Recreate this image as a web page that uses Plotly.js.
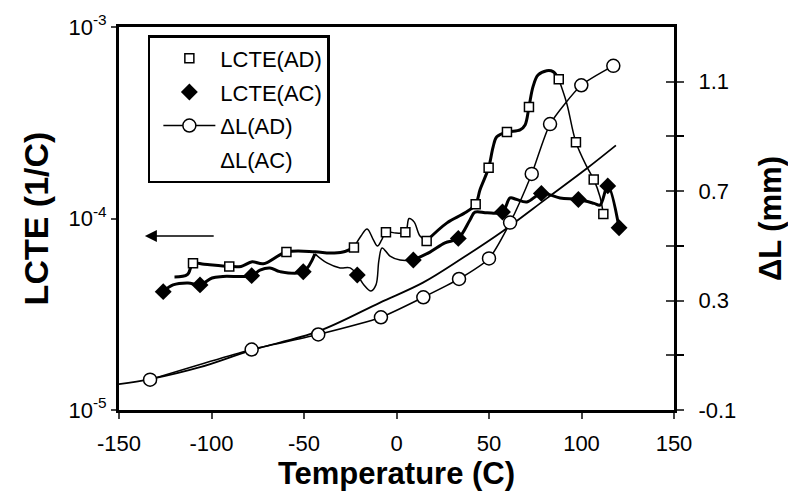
<!DOCTYPE html>
<html>
<head>
<meta charset="utf-8">
<script src="https://cdn.plot.ly/plotly-3.0.1.min.js"></script>
<style>html,body{margin:0;padding:0;background:#fff}#chart{width:788px;height:499px}</style>
</head>
<body>
<div id="chart"></div>
<script>
// ---- measured points ----
const adTemp = [-110, -90.4, -59.5, -23, -5.7, 4.8, 16.3, 42.8, 49.8, 59.7, 71.6, 87.7, 97, 106.6, 111.8];
const adLcte = [5.83e-5, 5.62e-5, 6.68e-5, 7.05e-5, 8.48e-5, 8.48e-5, 7.64e-5, 1.186e-4, 1.84e-4, 2.83e-4, 3.82e-4, 5.33e-4, 2.5e-4, 1.6e-4, 1.055e-4];
const acTemp = [-126.1, -106.2, -78.3, -50.4, -21.2, 9.1, 33.4, 57.3, 78.3, 98.3, 114.2, 120.3];
const acLcte = [4.15e-5, 4.5e-5, 5.03e-5, 5.27e-5, 5.07e-5, 6.07e-5, 7.87e-5, 1.082e-4, 1.352e-4, 1.257e-4, 1.48e-4, 8.95e-5];
const dlAdTemp = [-133.2, -78.3, -42.3, -8.4, 14.5, 33.8, 50.0, 61.4, 73.1, 83.0, 99.9, 117.2];
const dlAd = [0.011, 0.121, 0.176, 0.239, 0.312, 0.379, 0.454, 0.585, 0.763, 0.945, 1.087, 1.158];
const dlAcTemp = [-150, -133.2, -106.2, -78.6, -42.4, -8.9, 14.3, 35.9, 57.6, 81.4, 103.0, 118.6];
const dlAc = [-0.0055, 0.0127, 0.0564, 0.1182, 0.1873, 0.2927, 0.3655, 0.4564, 0.5545, 0.6745, 0.7836, 0.8673];

// ---- smoothed curves ----
const adCurveATemp = [-120, -113, -110, -104, -90.4, -84, -78, -72, -59.5, -44, -36, -29, -23];
const adCurveA = [4.95e-5, 5.1e-5, 5.83e-5, 5.77e-5, 5.62e-5, 5.62e-5, 5.94e-5, 5.8e-5, 6.68e-5, 6.7e-5, 6.6e-5, 6.68e-5, 7.05e-5];
const adCurveBTemp = [-23, -19.2, -15.9, -12.5, -10.3, -8, -5.7, -0.3, 4.8, 6.8, 9.5, 12.7, 16.3];
const adCurveB = [7.05e-5, 8.1e-5, 8.82e-5, 7.73e-5, 7.18e-5, 7.73e-5, 8.48e-5, 8.4e-5, 8.48e-5, 1.0e-4, 9.6e-5, 8.1e-5, 7.64e-5];
const adCurveCTemp = [16.3, 27.3, 37.0, 42.8, 45.1, 49.8, 52.2, 54.2, 59.7, 66.8, 69.5, 71.6, 73.8, 76.5, 81.2, 84.6, 87.7];
const adCurveC = [7.64e-5, 9.49e-5, 1.07e-4, 1.186e-4, 1.41e-4, 1.84e-4, 2.36e-4, 2.67e-4, 2.83e-4, 2.9e-4, 3.08e-4, 3.82e-4, 4.88e-4, 5.61e-4, 5.91e-4, 5.85e-4, 5.33e-4];
const adCurveDTemp = [87.7, 92.0, 97.0, 102.8, 106.6, 110.0, 111.8];
const adCurveD = [5.33e-4, 4.0e-4, 2.5e-4, 1.87e-4, 1.6e-4, 1.3e-4, 1.055e-4];

const acCurveATemp = [-126.1, -120.8, -112.7, -106.2, -99.7, -93.8, -78.3, -73.8, -68.4, -63.0, -50.4, -44.1];
const acCurveA = [4.15e-5, 4.5e-5, 4.61e-5, 4.5e-5, 4.89e-5, 4.98e-5, 5.03e-5, 5.38e-5, 5.52e-5, 5.28e-5, 5.27e-5, 6.53e-5];
const acCurveBTemp = [-44.1, -37.6, -30.5, -25.1, -21.2, -17.6, -13.8, -11.1, -9.5, -7.8, -3.5, 1.9, 9.1];
const acCurveB = [6.53e-5, 5.86e-5, 5.52e-5, 5.52e-5, 5.07e-5, 4.5e-5, 4.18e-5, 4.5e-5, 6.07e-5, 7.02e-5, 6.37e-5, 6.07e-5, 6.07e-5];
const acCurveCTemp = [9.1, 18.1, 26.2, 33.4, 39.7, 42.4, 49.0, 57.3, 61.4, 64.6, 70.5, 78.3, 88.4, 98.3, 106.8, 110.0, 114.2, 120.3];
const acCurveC = [6.07e-5, 6.68e-5, 7.45e-5, 7.87e-5, 9.82e-5, 1.08e-4, 1.07e-4, 1.082e-4, 1.28e-4, 1.26e-4, 1.22e-4, 1.352e-4, 1.28e-4, 1.257e-4, 1.2e-4, 1.175e-4, 1.48e-4, 8.95e-5];

const xTicks = [-150, -100, -50, 0, 50, 100, 150];
const xTickText = ['-150', '-100', '-50', '0', '50', '100', '150'];
const lcteTicks = [1e-5, 1e-4, 1e-3];
const lcteTickText = ['10<sup>-5</sup>', '10<sup>-4</sup>', '10<sup>-3</sup>'];
const dlTicks = [-0.1, 0.3, 0.7, 1.1];
const dlTickText = ['-0.1', '0.3', '0.7', '1.1'];
const dlMinorTicks = [0.1, 0.5, 0.9];
const dlAllTicks = [-0.1, 0.1, 0.3, 0.5, 0.7, 0.9, 1.1];

const FONT = 'Liberation Sans, Arial, sans-serif';
function curve(x, y, w, yaxis) {
  return {x: x, y: y, yaxis: yaxis || 'y', mode: 'lines', showlegend: false, hoverinfo: 'skip',
          line: {color: '#000', width: w, shape: 'spline', smoothing: 1}};
}

const traces = [
  curve(dlAcTemp, dlAc, 1.8, 'y2'),
  curve(adCurveATemp, adCurveA, 3),
  curve(adCurveBTemp, adCurveB, 1.5),
  curve(adCurveCTemp, adCurveC, 3),
  curve(adCurveDTemp, adCurveD, 1.5),
  curve(acCurveATemp, acCurveA, 3),
  curve(acCurveBTemp, acCurveB, 1.5),
  curve(acCurveCTemp, acCurveC, 3),
  {x: dlAdTemp, y: dlAd, yaxis: 'y2', name: 'ΔL(AD)', mode: 'lines+markers', legendgroup: 'c', legendrank: 3,
   line: {color: '#000', width: 1.5, shape: 'spline', smoothing: 0.6},
   marker: {symbol: 'circle', size: 13, color: '#fff', line: {color: '#000', width: 1.5}}},
  {x: adTemp, y: adLcte, name: 'LCTE(AD)', mode: 'markers', legendgroup: 'a', legendrank: 1,
   marker: {symbol: 'square', size: 9, color: '#fff', line: {color: '#000', width: 1.5}}},
  {x: acTemp, y: acLcte, name: 'LCTE(AC)', mode: 'markers', legendgroup: 'b', legendrank: 2,
   marker: {symbol: 'diamond', size: 13, color: '#000', line: {color: '#000', width: 0}}},
  {x: [null], y: [null], yaxis: 'y2', name: 'ΔL(AC)', mode: 'lines', legendgroup: 'd', legendrank: 4,
   line: {color: 'rgba(0,0,0,0)', width: 1}},
  {x: [0], y: [0.5], yaxis: 'y3', mode: 'markers', marker: {opacity: 0}, showlegend: false, hoverinfo: 'skip'}
];

const layout = {
  width: 788, height: 499,
  margin: {l: 119, r: 114, t: 27, b: 89},
  paper_bgcolor: '#fff', plot_bgcolor: '#fff',
  font: {family: FONT, size: 22, color: '#000'},
  showlegend: true,
  legend: {x: 0.052, y: 0.979, xanchor: 'left', yanchor: 'top', bgcolor: '#fff',
           bordercolor: '#000', borderwidth: 2.5, font: {family: FONT, size: 22},
           traceorder: 'grouped', tracegroupgap: 2, itemwidth: 52, indentation: 8},
  xaxis: {range: [-150, 150], tickvals: xTicks, ticktext: xTickText, ticks: 'outside', ticklen: 6, tickwidth: 2,
          showline: true, linewidth: 3, linecolor: '#000', mirror: true, showgrid: false, zeroline: false,
          ticklabelstandoff: 6,
          title: {text: '<b>Temperature (C)</b>', font: {family: FONT, size: 31}, standoff: 0}},
  yaxis: {type: 'log', range: [-5, -3], tickvals: lcteTicks, ticktext: lcteTickText,
          ticks: 'outside', ticklen: 5, tickwidth: 2, showline: true, linewidth: 3, linecolor: '#000',
          showgrid: false, zeroline: false,
          title: {text: '<b>LCTE (1/C)</b>', font: {family: FONT, size: 34}, standoff: 10}},
  yaxis2: {overlaying: 'y', side: 'right', range: [-0.1, 1.3], tickvals: dlTicks, ticktext: dlTickText,
           ticks: 'outside', ticklen: 7, tickwidth: 2, showline: true, linewidth: 3, linecolor: '#000',
           minor: {tickvals: dlMinorTicks, ticks: 'outside', ticklen: 7, tickwidth: 2, tickcolor: '#000', showgrid: false},
           showgrid: false, zeroline: false, ticklabelstandoff: 10,
           title: {text: '<b>ΔL (mm)</b>', font: {family: FONT, size: 31}, standoff: 28}},
  yaxis3: {overlaying: 'y', side: 'right', range: [-0.1, 1.3], tickvals: dlAllTicks,
           ticks: 'inside', ticklen: 8, tickwidth: 2, showticklabels: false, showline: false,
           showgrid: false, zeroline: false},
  annotations: [{x: -136, y: -4.091, ax: -98, ay: -4.091, xref: 'x', yref: 'y', axref: 'x', ayref: 'y',
                 text: '', showarrow: true, arrowhead: 2, arrowsize: 1.6, arrowwidth: 1.5, arrowcolor: '#000'}]
};

Plotly.newPlot('chart', traces, layout, {displayModeBar: false, staticPlot: true});
</script>
</body>
</html>
